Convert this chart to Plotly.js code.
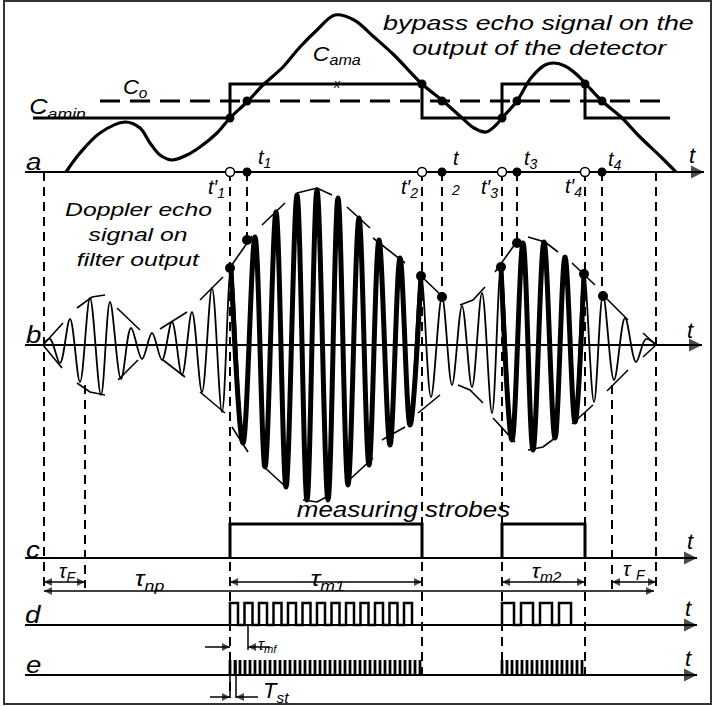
<!DOCTYPE html>
<html><head><meta charset="utf-8">
<script src="https://cdn.plot.ly/plotly-3.0.1.min.js"></script>
<style>html,body{margin:0;padding:0;background:#fff;}#chart{width:714px;height:706px;}</style>
</head><body><div id="chart"></div>
<script>
// ================= DATA =================
// time axis in schematic units; amplitudes measured above each panel's zero line
// (a) bypass echo signal at detector output
const echoT = [66, 80, 100, 125, 140, 150, 160, 172, 187, 200, 217, 230, 248, 263, 283, 300, 317, 335, 354, 374, 394, 422, 443, 461, 474, 486, 496, 502, 517, 531, 545, 554, 565, 575, 585, 602, 621, 640, 660, 676];
const echoA = [0, 19, 39, 50, 44, 29, 17, 12, 17, 25, 39, 54, 71, 87, 105, 125, 142, 157, 152, 135, 117, 88, 71, 55, 44, 40, 47, 54, 71, 94, 107, 109, 106, 99, 89, 71, 55, 35, 16, 0];
const levelCamin = 54, levelCama = 88, levelCo = 71;
const thresholdSpan = [33, 670];
const coSpan = [100, 670];
const gateEdges = [230, 422, 502, 585];      // t'1, t'2, t'3, t'4
const crossT = [247, 442, 517, 602];         // t1, t2, t3, t4
// (b) Doppler echo signal on filter output: successive extrema
const dopT = [43, 50, 60, 70, 80, 90, 101, 110, 121, 131, 142, 152, 162, 172, 182, 192, 202, 212, 222, 231, 243, 255, 265, 276, 286, 297, 307, 317, 328, 338, 348, 359, 369, 379, 390, 400, 410, 421, 431, 442, 452, 462, 472, 482, 492, 501, 512, 523, 533, 544, 555, 565, 575, 584, 594, 603, 614, 625, 636, 646, 656];
const dopA = [0, 6, -18, 26, -37, 47, -50, 43, -34, 17, -14, 12, -15, 23, -30, 33, -47, 57, -67, 77, -98, 108, -122, 133, -142, 150, -155, 155, -155, 147, -140, 127, -120, 105, -100, 87, -80, 70, -52, 48, -40, 39, -42, 52, -68, 78, -95, 102, -105, 103, -93, 88, -77, 72, -57, 50, -35, 27, -17, 6, 0];
// envelope tangents (null separates pieces)
const envT = [43,63,null,43,62,null,77,92,105,null,77,90,105,null,117,140,null,118,138,null,160,187,null,163,185,null,200,223,null,200,225,null,
  229,252,null,262,285,null,297,317,332,null,347,370,null,373,405,null,420,445,null,232,248,null,262,287,null,303,317,330,null,347,373,null,382,405,null,418,440,null,
  460,473,485,null,458,470,483,null,495,518,null,493,515,null,528,545,558,null,572,595,null,603,628,null,528,543,555,null,572,593,null,607,628,null,643,656,null,643,656];
const envA = [0,22,null,0,-23,null,37,48,50,null,-38,-47,-50,null,37,15,null,-35,-15,null,16,33,null,-15,-32,null,45,68,null,-47,-68,null,
  76,109,null,120,142,null,152,157,150,null,138,117,null,107,82,null,70,46,null,-82,-107,null,-120,-143,null,-155,-157,-150,null,-137,-113,null,-95,-82,null,-68,-50,null,
  40,45,58,null,-40,-45,-58,null,73,105,null,-73,-97,null,108,103,93,null,82,60,null,50,25,null,-105,-102,-93,null,-79,-60,null,-46,-25,null,12,0,null,-12,0];
const dopDotT = [230, 247, 421, 442, 501, 517, 584, 603];
const dopDotA = [77, 105, 69, 48, 78, 102, 71, 49];
// (c)-(e) strobes and pulse trains
const strobeA = 34;
const filterT = [44, 85, 612, 656];          // tau_F intervals
const mfPeriod = [14.5, 19], mfWidth = [8, 12], mfA = 22;  // modulation pulses (d), per strobe
const stPeriod = 5, stA = 15;                // strobe pulses (e)

// ================= LAYOUT CONSTANTS =================
const base = {a: 172, b: 345, c: 558, d: 625, e: 675};
const K = '#000';
const FONT = 'Liberation Sans, Arial, sans-serif';

const Y = (b, arr) => arr.map(v => v === null ? null : base[b] - v);
const traces = [];
const line = (x, y, w, extra) => traces.push(Object.assign({type:'scatter', mode:'lines', x, y, line:{color:K, width:w}, hoverinfo:'skip'}, extra||{}));

// dashed guide lines
const guides = [
  [filterT[0],172,592],[filterT[1],385,588],[gateEdges[0],172,698],[crossT[0],172,240],
  [gateEdges[1],172,676],[crossT[1],172,297],[gateEdges[2],172,676],[crossT[2],172,243],
  [gateEdges[3],172,676],[crossT[3],172,296],[filterT[2],385,590],[filterT[3],172,592]];
{
  const gx = [], gy = [];
  guides.forEach(g => { gx.push(g[0], g[0], null); gy.push(g[1], g[2], null); });
  line(gx, gy, 2, {line:{color:K, width:2, dash:'9px,6px'}});
}
// (a) thresholds
{
  const sx = [thresholdSpan[0]], sa = [levelCamin];
  for (let i = 0; i < gateEdges.length; i += 2) {
    sx.push(gateEdges[i], gateEdges[i], gateEdges[i+1], gateEdges[i+1]);
    sa.push(levelCamin, levelCama, levelCama, levelCamin);
  }
  sx.push(thresholdSpan[1]); sa.push(levelCamin);
  line(sx, Y('a', sa), 3);
  line(coSpan, Y('a', [levelCo, levelCo]), 3, {line:{color:K, width:3, dash:'20px,10px'}});
}
line(echoT, Y('a', echoA), 3.2, {line:{color:K, width:3.2, shape:'spline', smoothing:1}});
// (b) oscillation
line(dopT, Y('b', dopA), 1.8, {line:{color:K, width:1.8, shape:'spline', smoothing:1}});
{
  const tx = [], ta = [];
  for (let i = 0; i < gateEdges.length; i += 2) {
    dopT.forEach((t, k) => { if (t >= gateEdges[i]-2 && t <= gateEdges[i+1]+1) { tx.push(t); ta.push(dopA[k]); } });
    tx.push(null); ta.push(null);
  }
  line(tx, Y('b', ta), 5, {line:{color:K, width:5, shape:'spline', smoothing:1}});
}
line(envT, Y('b', envA), 1.6);
// (c) strobes
{
  const sx = [], sa = [];
  for (let i = 0; i < gateEdges.length; i += 2) {
    sx.push(gateEdges[i], gateEdges[i], gateEdges[i+1], gateEdges[i+1], null);
    sa.push(0, strobeA, strobeA, 0, null);
  }
  line(sx, Y('c', sa), 3);
}
// (d) modulation pulses
{
  const x = [], a = [];
  for (let i = 0; i < gateEdges.length; i += 2) {
    const P = mfPeriod[i/2], W = mfWidth[i/2];
    for (let t = gateEdges[i]; t + W <= gateEdges[i+1] + 0.01; t += P) { x.push(t, t, t + W, t + W); a.push(0, mfA, mfA, 0); }
    x.push(null); a.push(null);
  }
  line(x, Y('d', a), 2.5);
}
// (e) strobe pulses (narrow spikes)
{
  const x = [], a = [];
  for (let i = 0; i < gateEdges.length; i += 2) {
    for (let t = gateEdges[i]; t <= gateEdges[i+1] + 0.01; t += stPeriod) { x.push(t, t, null); a.push(0, stA, null); }
  }
  line(x, Y('e', a), 2.8);
}
// small solid markers of tau_mf and T_st
line([crossT[0] + 1, crossT[0] + 1], [base.d, base.d + 25], 1.5);
line([gateEdges[0] + 6, gateEdges[0] + 6, null, gateEdges[0], gateEdges[0]], [base.e - 15, base.e + 23, null, base.e, base.e + 23], 1.5);

// ---- axes and dimension arrows: shafts as lines, heads as arrow markers ----
const shafts = {x: [], y: []}, heads = {x: [], y: [], s: [], z: []};
function arrowLine(x0, x1, y, size, leftHead, rightHead) {
  shafts.x.push(x0, x1, null); shafts.y.push(y, y, null);
  if (leftHead) { heads.x.push(x0); heads.y.push(y); heads.s.push('arrow-left'); heads.z.push(size); }
  if (rightHead) { heads.x.push(x1); heads.y.push(y); heads.s.push('arrow-right'); heads.z.push(size); }
}
const axisTip = {a: 704, b: 702, c: 697, d: 697, e: 697};
Object.keys(base).forEach(p => arrowLine(25, axisTip[p], base[p], 13, false, true));
line(shafts.x.splice(0), shafts.y.splice(0), 2);
arrowLine(filterT[0], filterT[1], 582, 8, true, true);
arrowLine(gateEdges[0], gateEdges[1], 582, 8, true, true);
arrowLine(gateEdges[2], gateEdges[3], 582, 8, true, true);
arrowLine(filterT[2], filterT[3], 582, 8, true, true);
arrowLine(filterT[0], 654, 591, 8, true, true);
arrowLine(205, gateEdges[0], 647, 8, false, true);
arrowLine(crossT[0] + 1, 270, 647, 8, true, false);
arrowLine(210, gateEdges[0], 697, 8, false, true);
arrowLine(gateEdges[0] + 6, 258, 697, 8, true, false);
line(shafts.x, shafts.y, 1.5);
traces.push({type:'scatter', mode:'markers', x: heads.x, y: heads.y, marker:{symbol: heads.s, size: heads.z, color: K, line:{width:0}}, hoverinfo:'skip'});

// dots (a) and (b)
{
  const lv = [levelCamin, levelCama, levelCamin, levelCama];
  traces.push({type:'scatter', mode:'markers', x: gateEdges.concat(crossT), y: Y('a', lv.concat(crossT.map(()=>levelCo))),
    marker:{color:K, size:9}, hoverinfo:'skip'});
  traces.push({type:'scatter', mode:'markers', x: crossT, y: Y('a', crossT.map(()=>0)), marker:{color:K, size:9}, hoverinfo:'skip'});
  traces.push({type:'scatter', mode:'markers', x: gateEdges, y: Y('a', gateEdges.map(()=>0)), marker:{color:'#fff', size:9, line:{color:K, width:1.5}}, hoverinfo:'skip'});
  traces.push({type:'scatter', mode:'markers', x: dopDotT, y: Y('b', dopDotA), marker:{color:K, size:10}, hoverinfo:'skip'});
}

// ================= TEXT (annotations, italic via markup) =================
const ann = [];
const stretch = [];
function txt(text, x, y, size, sx) {
  ann.push({text: '<i>' + text + '</i>', x, y, xref:'x', yref:'y', showarrow:false, xanchor:'center', yanchor:'middle',
    font:{family:FONT, size, color:K}});
  stretch.push(sx || 1);
}
txt('bypass echo signal on the', 538, 22, 21, 1.28);
txt('output of the detector', 539, 47, 21, 1.28);
txt('Doppler echo', 138, 209, 19, 1.3);
txt('signal on', 138, 234, 19, 1.3);
txt('filter output', 138, 259, 19, 1.3);
txt('measuring strobes', 403, 509, 22, 1.18);
txt('C<sub>amin</sub>', 57, 108, 22, 1.15);
txt('C<sub>o</sub>', 135, 88, 20, 1.1);
txt('C<sub>ama</sub>', 337, 55, 20, 1.15);
txt('x', 337, 84, 12);
txt('t<sub>1</sub>', 264, 158, 20);
txt('t′<sub>1</sub>', 216, 188, 20);
txt('t′<sub>2</sub>', 409, 188, 20);
txt('t', 456, 158, 20);
txt('2', 455, 190, 14);
txt('t′<sub>3</sub>', 489, 188, 20);
txt('t<sub>3</sub>', 531, 159, 20);
txt('t′<sub>4</sub>', 573, 187, 20);
txt('t<sub>4</sub>', 615, 160, 20);
[['a',155,692],['b',330,690],['c',541,690],['d',608,688],['e',658,688]].forEach(([p, y, x]) => txt('t', x, y, 22));
[['a',161],['b',334],['c',549],['d',614],['e',664]].forEach(([p, y]) => txt(p, 33, y, 24, 1.15));
txt('τ<sub>F</sub>', 67, 572, 20);
txt('τ<sub>np</sub>', 150, 580, 22, 1.15);
txt('τ<sub>m1</sub>', 328, 580, 22, 1.15);
txt('τ<sub>m2</sub>', 546, 572, 20, 1.1);
txt('τ <sub>F</sub>', 634, 570, 20);
txt('τ<sub>mf</sub>', 268, 645, 16);
txt('T<sub>st</sub>', 276, 692, 22);

const layout = {
  width: 714, height: 706, margin:{l:0, r:0, t:0, b:0},
  paper_bgcolor:'#fff', plot_bgcolor:'#fff', showlegend:false,
  xaxis:{range:[0,714], visible:false, fixedrange:true},
  yaxis:{range:[706,0], visible:false, fixedrange:true},
  shapes:[{type:'rect', xref:'x', yref:'y', x0:4, x1:711, y0:1, y1:704, line:{color:'#333', width:2}}],
  annotations: ann
};
Plotly.newPlot('chart', traces, layout, {displayModeBar:false}).then(gd => {
  gd.querySelectorAll('g.annotation').forEach(g => {
    const i = +g.getAttribute('data-index');
    const s = stretch[i] || 1;
    if (s !== 1) {
      const t = g.querySelector('text.annotation-text');
      if (t) { t.style.transformBox = 'fill-box'; t.style.transformOrigin = 'center'; t.style.transform = 'scaleX(' + s + ')'; }
    }
  });
});
</script></body></html>
